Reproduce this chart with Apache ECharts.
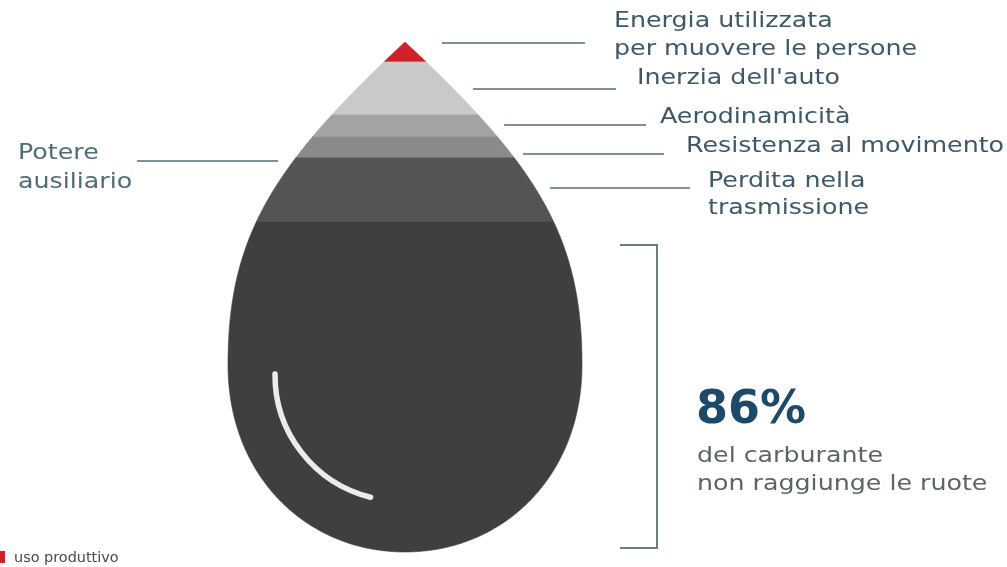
<!DOCTYPE html>
<html>
<head>
<meta charset="utf-8">
<script src="https://cdn.jsdelivr.net/npm/echarts@6/dist/echarts.min.js"></script>
<style>
  html, body { margin: 0; padding: 0; background: #ffffff; }
  #chart { width: 1007px; height: 567px; }
</style>
</head>
<body>
<div id="chart"></div>
<script>
// Energy bands of the fuel drop, listed from the tip down.
// Depths are in % of the drop height (0 = tip, 100 = bottom).
const bandNames = [
  'Energia utilizzata per muovere le persone',
  "Inerzia dell'auto",
  'Aerodinamicità',
  'Resistenza al movimento',
  'Perdita nella trasmissione',
  'Perdite del motore'
];
const bandTop    = [0,   3.9, 14.3, 18.6, 22.7, 35.3];
const bandBottom = [3.9, 14.3, 18.6, 22.7, 35.3, 100];

// Share of fuel that never reaches the wheels
const lostShare = 86;

// Callout texts
const calloutRight = [
  ['Energia utilizzata', 'per muovere le persone'],
  ["Inerzia dell'auto"],
  ['Aerodinamicità'],
  ['Resistenza al movimento'],
  ['Perdita nella', 'trasmissione']
];
const calloutLeft = ['Potere', 'ausiliario'];
const legendText = 'uso produttivo';

// ---- styling ----
const bandColors = ['#cf2128', '#c9c9c9', '#a3a3a3', '#8a8a8a', '#545454', '#3f3f3f'];
const LABEL_FONT = '"DejaVu Sans", sans-serif';
const labelColor = '#3f5867';
const leaderColor = '#7d909c';
const TEXT_STRETCH = 1.15;

// Right half of the drop outline in axis units:
// x = half-width as a fraction of the widest point, y = depth in %.
const upperCurve = [[0, 0], [0.76, 24.5], [1, 38.5], [1, 63.3]];
const lowerCurve = [[1, 63.3], [1, 85.0], [0.56, 100], [0, 100]];

function bezier(c, t) {
  const u = 1 - t;
  const a = u * u * u, b = 3 * u * u * t, d = 3 * u * t * t, e = t * t * t;
  return [
    a * c[0][0] + b * c[1][0] + d * c[2][0] + e * c[3][0],
    a * c[0][1] + b * c[1][1] + d * c[2][1] + e * c[3][1]
  ];
}

const outline = [];
const STEPS = 160;
for (let i = 0; i <= STEPS; i++) outline.push(bezier(upperCurve, i / STEPS));
for (let i = 1; i <= STEPS; i++) outline.push(bezier(lowerCurve, i / STEPS));

function halfWidthAt(y) {
  for (let k = 0; k < outline.length - 1; k++) {
    const p = outline[k], q = outline[k + 1];
    if (y >= p[1] && y <= q[1]) {
      const f = q[1] === p[1] ? 0 : (y - p[1]) / (q[1] - p[1]);
      return p[0] + (q[0] - p[0]) * f;
    }
  }
  return 0;
}

function bandOutline(y0, y1) {
  const right = [[halfWidthAt(y0), y0]];
  outline.forEach(function (p) { if (p[1] > y0 && p[1] < y1) right.push(p); });
  right.push([halfWidthAt(y1), y1]);
  const left = right.slice().reverse().map(function (p) { return [-p[0], p[1]]; });
  return right.concat(left);
}

const bandData = bandNames.map(function (name, i) {
  return { name: name, value: [bandTop[i], bandBottom[i], i] };
});

// ---- annotation graphics ----
const graphics = [];

function leader(x1, x2, y, color) {
  graphics.push({
    type: 'line', silent: true,
    shape: { x1: x1, y1: y, x2: x2, y2: y },
    style: { stroke: color || leaderColor, lineWidth: 2 }
  });
}
function label(text, x, y, opt) {
  opt = opt || {};
  graphics.push({
    type: 'text', silent: true, x: x, y: y,
    scaleX: opt.stretch || TEXT_STRETCH,
    style: {
      text: text,
      fill: opt.color || labelColor,
      font: (opt.weight || 'normal') + ' ' + (opt.size || 22) + 'px ' + LABEL_FONT,
      textVerticalAlign: 'middle',
      textAlign: 'left'
    }
  });
}

// leader lines to the bands
leader(442, 585, 43);
leader(473, 616, 89);
leader(504, 646, 125);
leader(523, 664, 154);
leader(550, 690, 188);
leader(137, 278, 161);

// right-hand callouts
label(calloutRight[0][0], 614, 21);
label(calloutRight[0][1], 614, 49);
label(calloutRight[1][0], 637, 78);
label(calloutRight[2][0], 660, 117);
label(calloutRight[3][0], 686, 146);
label(calloutRight[4][0], 708, 181);
label(calloutRight[4][1], 708, 208);

// left-hand callout
label(calloutLeft[0], 18, 153, { color: '#4e6c79' });
label(calloutLeft[1], 18, 182, { color: '#4e6c79' });

// bracket around the lost share
graphics.push({
  type: 'polyline', silent: true,
  shape: { points: [[620, 245], [657, 245], [657, 548], [620, 548]] },
  style: { stroke: '#6b7c87', lineWidth: 2, fill: null }
});

label(lostShare + '%', 696, 411, { size: 46, weight: 'bold', color: '#1d4a69', stretch: 1 });
label('del carburante', 697, 456, { color: '#5b6469' });
label('non raggiunge le ruote', 697, 484, { color: '#5b6469' });

// highlight reflex on the drop
graphics.push({
  type: 'arc', silent: true, z: 10,
  shape: { cx: 401, cy: 375, r: 126, startAngle: 104 * Math.PI / 180, endAngle: 180.5 * Math.PI / 180, clockwise: true },
  style: { stroke: '#ebebeb', lineWidth: 5.5, fill: null, lineCap: 'round' }
});

// legend swatch
graphics.push({
  type: 'rect', silent: true,
  shape: { x: 0, y: 551, width: 5, height: 12 },
  style: { fill: bandColors[0] }
});
label(legendText, 14, 558, { size: 14, color: '#4a4a4a', stretch: 1.03 });

const chart = echarts.init(document.getElementById('chart'), null, { renderer: 'canvas' });
chart.setOption({
  animation: false,
  backgroundColor: '#ffffff',
  grid: { left: 228, top: 42, width: 354, height: 510 },
  xAxis: { type: 'value', min: -1, max: 1, show: false },
  yAxis: { type: 'value', min: 0, max: 100, inverse: true, show: false },
  series: [{
    type: 'custom',
    coordinateSystem: 'cartesian2d',
    data: bandData,
    encode: { x: -1, y: [0, 1] },
    renderItem: function (params, api) {
      const y0 = api.value(0), y1 = api.value(1), idx = api.value(2);
      const pts = bandOutline(y0, y1).map(function (p) { return api.coord(p); });
      return {
        type: 'polygon',
        shape: { points: pts },
        style: { fill: bandColors[idx], stroke: bandColors[idx], lineWidth: 0.6 }
      };
    }
  }],
  graphic: graphics
});
</script>
</body>
</html>
